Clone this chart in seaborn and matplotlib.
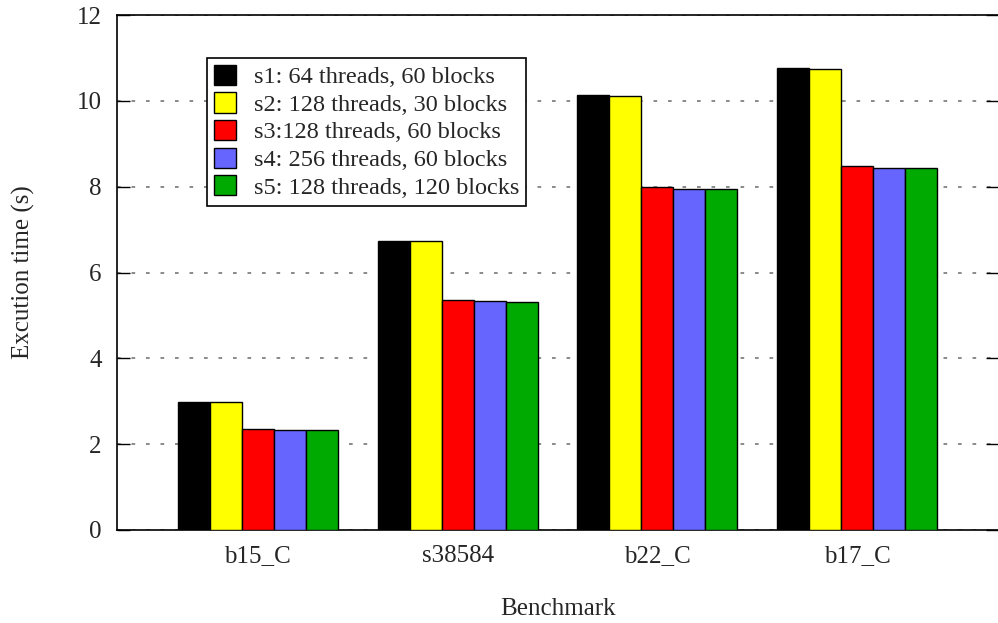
import matplotlib
matplotlib.use("Agg")
import matplotlib.pyplot as plt
import seaborn as sns
import pandas as pd

benchmarks = ["b15_C", "s38584", "b22_C", "b17_C"]
configs = [
    "s1: 64 threads, 60 blocks",
    "s2: 128 threads, 30 blocks",
    "s3:128 threads, 60 blocks",
    "s4: 256 threads, 60 blocks",
    "s5: 128 threads, 120 blocks",
]
s1 = [2.98, 6.74, 10.13, 10.76]
s2 = [2.98, 6.73, 10.12, 10.75]
s3 = [2.35, 5.35, 8.00, 8.47]
s4 = [2.32, 5.33, 7.94, 8.43]
s5 = [2.32, 5.31, 7.94, 8.43]
colors = ["#000000", "#ffff00", "#ff0000", "#6666ff", "#00aa00"]

series = [s1, s2, s3, s4, s5]
rows = []
for cfg, vals in zip(configs, series):
    for bm, v in zip(benchmarks, vals):
        rows.append({"Benchmark": bm, "Config": cfg, "Time": v})
df = pd.DataFrame(rows)

sns.set_style("white")
plt.rcParams["font.family"] = ["Liberation Serif", "DejaVu Serif"]

fig = plt.figure(figsize=(9.98, 6.23), dpi=100)
ax = fig.add_axes([117 / 998, 93 / 623, 881 / 998, 515 / 623])

sns.barplot(data=df, x="Benchmark", y="Time", hue="Config",
            order=benchmarks, hue_order=configs, palette=colors,
            width=0.8, gap=0, edgecolor="black", linewidth=1.0,
            saturation=1, errorbar=None, ax=ax, zorder=3)

ax.set_xlim(-0.705, 3.705)
ax.set_ylim(0, 12)
ax.set_yticks(range(0, 13, 2))

ax.yaxis.grid(True, color="#777777", linewidth=1.2, linestyle=(0, (2.2, 6.5)), zorder=0)
ax.xaxis.grid(False)
ax.set_axisbelow(True)

for side in ["left", "bottom", "top"]:
    ax.spines[side].set_visible(True)
    ax.spines[side].set_color("black")
    ax.spines[side].set_linewidth(1.2)
ax.spines["right"].set_visible(False)

ax.tick_params(axis="y", direction="in", length=9, width=1, color="black",
               left=True, right=True, labelsize=18, pad=11)
ax.tick_params(axis="x", length=0, labelsize=18, pad=11)

ax.set_xlabel("Benchmark", fontsize=18, labelpad=22)
ax.set_ylabel("Excution time (s)", fontsize=18, labelpad=30)

handles, labels = ax.get_legend_handles_labels()
leg = ax.legend(handles, labels, loc="upper left",
                bbox_to_anchor=((207 - 117) / 881, (530 - 58) / 515),
                borderaxespad=0, fontsize=17.5, frameon=True, fancybox=False,
                edgecolor="black", framealpha=1, handlelength=0.9,
                handleheight=0.9, handletextpad=0.75, labelspacing=0.17,
                borderpad=0.28)
leg.get_frame().set_linewidth(1.2)

fig.savefig("out.png", dpi=100)
